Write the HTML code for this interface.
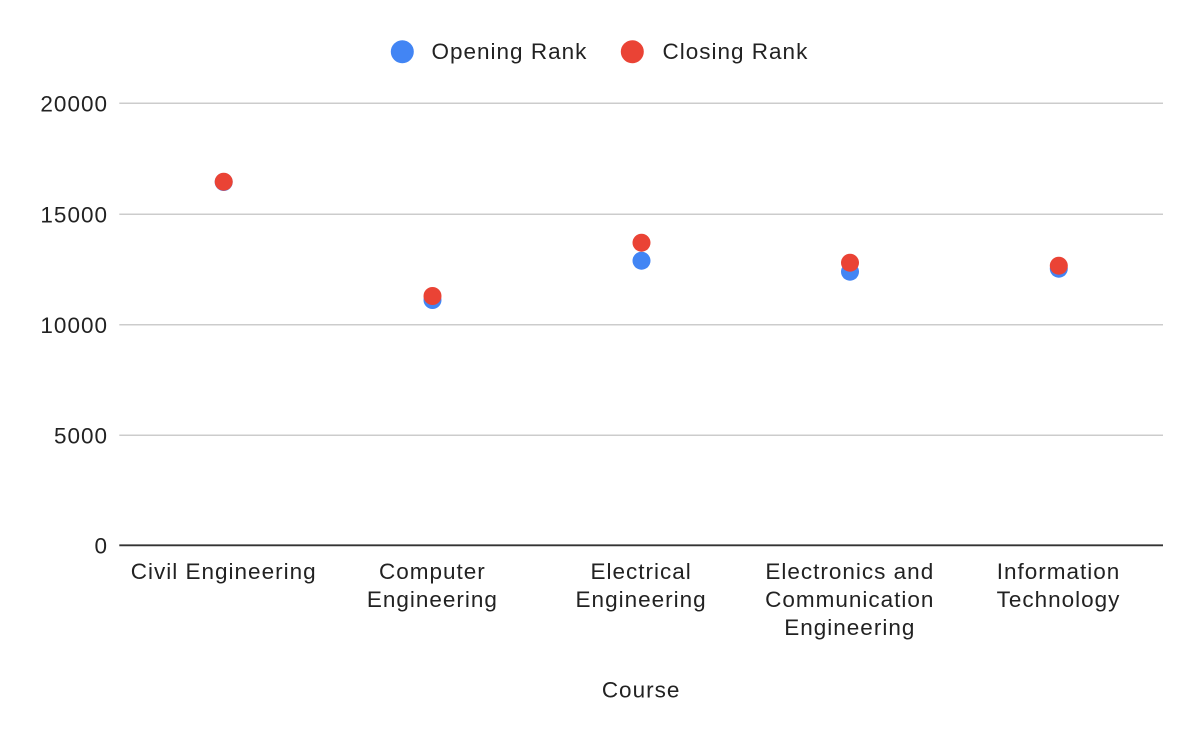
<!DOCTYPE html>
<html>
<head>
<meta charset="utf-8">
<style>
  html, body { margin: 0; padding: 0; background: #ffffff; }
  svg { display: block; }
  text { font-family: "Liberation Sans", Arial, sans-serif; font-size: 22.5px; fill: #222222; letter-spacing: 1px; }
</style>
</head>
<body>
<svg width="1200" height="742" viewBox="0 0 1200 742" xmlns="http://www.w3.org/2000/svg">
  <rect x="0" y="0" width="1200" height="742" fill="#ffffff"/>

  <!-- Legend -->
  <circle cx="402.3" cy="51.7" r="11.5" fill="#4285F4"/>
  <text x="431.5" y="59">Opening Rank</text>
  <circle cx="632.3" cy="51.7" r="11.5" fill="#EA4335"/>
  <text x="662.5" y="59">Closing Rank</text>

  <!-- Gridlines -->
  <g stroke="#cccccc" stroke-width="1.5">
    <line x1="119.3" y1="103.3" x2="1163" y2="103.3"/>
    <line x1="119.3" y1="214.3" x2="1163" y2="214.3"/>
    <line x1="119.3" y1="324.8" x2="1163" y2="324.8"/>
    <line x1="119.3" y1="435.3" x2="1163" y2="435.3"/>
  </g>
  <line x1="119.3" y1="545.3" x2="1163" y2="545.3" stroke="#333333" stroke-width="1.8"/>

  <!-- Y tick labels -->
  <g text-anchor="end">
    <text x="108" y="111.5">20000</text>
    <text x="108" y="222.5">15000</text>
    <text x="108" y="333">10000</text>
    <text x="108" y="443.5">5000</text>
    <text x="108" y="553.5">0</text>
  </g>

  <!-- X labels -->
  <g text-anchor="middle">
    <text x="223.7" y="579">Civil Engineering</text>
    <text x="432.4" y="579">Computer</text>
    <text x="432.4" y="607">Engineering</text>
    <text x="641.1" y="579">Electrical</text>
    <text x="641.1" y="607">Engineering</text>
    <text x="849.8" y="579">Electronics and</text>
    <text x="849.8" y="607">Communication</text>
    <text x="849.8" y="635">Engineering</text>
    <text x="1058.5" y="579">Information</text>
    <text x="1058.5" y="607">Technology</text>
    <text x="641.1" y="697.5">Course</text>
  </g>

  <!-- Opening Rank (blue) -->
  <g fill="#4285F4">
    <circle cx="223.7" cy="182" r="9"/>
    <circle cx="432.5" cy="300" r="9"/>
    <circle cx="641.5" cy="260.7" r="9"/>
    <circle cx="850" cy="271.7" r="9"/>
    <circle cx="1058.8" cy="268.7" r="9"/>
  </g>
  <!-- Closing Rank (red) -->
  <g fill="#EA4335">
    <circle cx="223.7" cy="181.7" r="9"/>
    <circle cx="432.5" cy="296" r="9"/>
    <circle cx="641.5" cy="242.7" r="9"/>
    <circle cx="850" cy="262.7" r="9"/>
    <circle cx="1058.8" cy="265.7" r="9"/>
  </g>
</svg>
</body>
</html>
